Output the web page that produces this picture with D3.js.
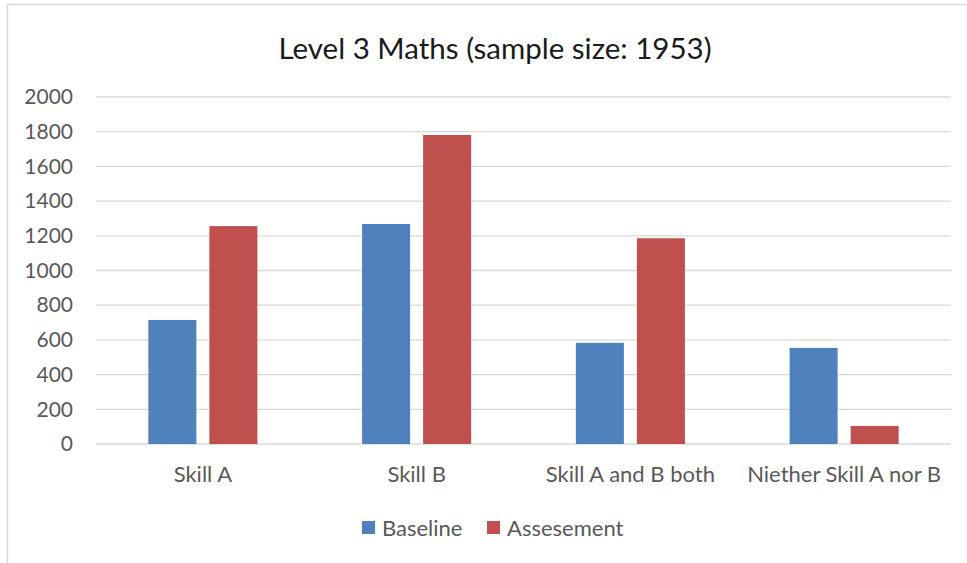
<!DOCTYPE html>
<html>
<head>
<meta charset="utf-8">
<script src="https://cdn.jsdelivr.net/npm/d3@7"></script>
<style>
  html, body { margin: 0; padding: 0; background: #fff; }
  svg { display: block; font-family: Lato, "Open Sans", sans-serif; }
</style>
</head>
<body>
<div id="chart"></div>
<script>
const categories = ['Skill A', 'Skill B', 'Skill A and B both', 'Niether Skill A nor B'];
const seriesNames = ['Baseline', 'Assesement'];
const baseline = [715, 1268, 583, 554];
const assesement = [1256, 1781, 1186, 104];
const yTicks = [0, 200, 400, 600, 800, 1000, 1200, 1400, 1600, 1800, 2000];
const colors = ['#4f81bd', '#c0504d'];

const width = 967;
const height = 563;
const margin = ({top: 97, right: 16, bottom: 119, left: 96});

const svg = d3.select('#chart').append('svg')
    .attr('width', width)
    .attr('height', height);

// chart area border
svg.append('rect')
    .attr('x', 7.5)
    .attr('y', 4.5)
    .attr('width', 980)
    .attr('height', 600)
    .attr('fill', 'none')
    .attr('stroke', '#d9d9d9')
    .attr('stroke-width', 1.5);

const x0 = d3.scaleBand()
    .domain(categories)
    .range([margin.left, width - margin.right])
    .paddingInner(0);

const x1 = d3.scaleBand()
    .domain(seriesNames)
    .range([0, x0.bandwidth()])
    .paddingInner(0.213)
    .paddingOuter(0.858);

const y = d3.scaleLinear()
    .domain([0, 2000])
    .range([height - margin.bottom, margin.top]);

// gridlines
svg.append('g')
    .selectAll('line')
    .data(yTicks)
    .join('line')
    .attr('x1', margin.left)
    .attr('x2', width - margin.right)
    .attr('y1', d => y(d))
    .attr('y2', d => y(d))
    .attr('stroke', '#d9d9d9')
    .attr('stroke-width', 1.3);

// y axis labels
const yAxis = g => g
    .attr('transform', `translate(${margin.left - 23},0)`)
    .call(d3.axisLeft(y).tickValues(yTicks).tickFormat(d3.format('d')).tickSize(0).tickPadding(0))
    .call(g => g.select('.domain').remove())
    .call(g => g.selectAll('text')
        .attr('fill', '#595959')
        .attr('font-size', 21)
        .attr('font-family', 'Lato, "Open Sans", sans-serif'));

svg.append('g').call(yAxis);

// x axis labels
const xAxis = g => g
    .attr('transform', `translate(0,${height - margin.bottom})`)
    .call(d3.axisBottom(x0).tickSize(0).tickPadding(22))
    .call(g => g.select('.domain').remove())
    .call(g => g.selectAll('text')
        .attr('fill', '#595959')
        .attr('font-size', 22)
        .attr('font-family', 'Lato, "Open Sans", sans-serif'));

svg.append('g').call(xAxis);

// bars
const rows = categories.map((c, i) => ({category: c, values: [baseline[i], assesement[i]]}));

svg.append('g')
    .selectAll('g')
    .data(rows)
    .join('g')
    .attr('transform', d => `translate(${x0(d.category)},0)`)
    .selectAll('rect')
    .data(d => d.values.map((v, j) => ({key: seriesNames[j], value: v, idx: j})))
    .join('rect')
    .attr('x', d => x1(d.key))
    .attr('width', x1.bandwidth())
    .attr('y', d => y(d.value))
    .attr('height', d => y(0) - y(d.value))
    .attr('fill', d => colors[d.idx]);

// title
svg.append('text')
    .attr('x', 495)
    .attr('y', 59)
    .attr('text-anchor', 'middle')
    .attr('font-size', 29.5)
    .attr('fill', '#1a1a1a')
    .text('Level 3 Maths (sample size: 1953)');

// legend
const legendItems = [
    {name: seriesNames[0], x: 362, color: colors[0]},
    {name: seriesNames[1], x: 487, color: colors[1]}
];

const legend = svg.append('g')
    .selectAll('g')
    .data(legendItems)
    .join('g')
    .attr('transform', d => `translate(${d.x},521)`);

legend.append('rect')
    .attr('width', 13)
    .attr('height', 13)
    .attr('fill', d => d.color);

legend.append('text')
    .attr('x', 20)
    .attr('y', 15)
    .attr('font-size', 22)
    .attr('fill', '#595959')
    .text(d => d.name);
</script>
</body>
</html>
